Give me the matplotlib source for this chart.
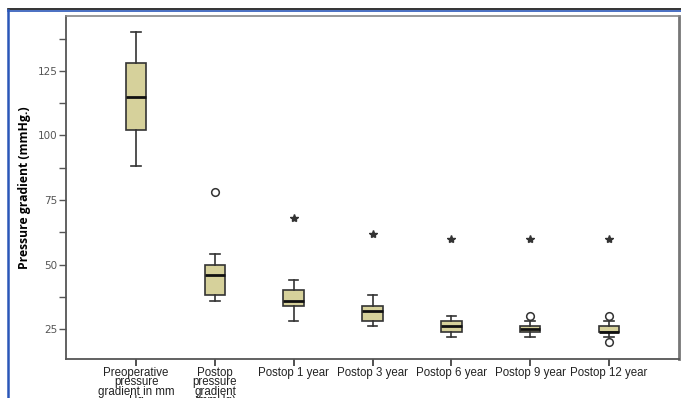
import matplotlib
matplotlib.use("Agg")
import matplotlib.pyplot as plt
from matplotlib.lines import Line2D

# box summary per time point
labels = ["Preoperative\npressure\ngradient in mm\nHg", "Postop\npressure\ngradient\n(mmHg)",
          "Postop 1 year", "Postop 3 year", "Postop 6 year", "Postop 9 year", "Postop 12 year"]
whislo = [88, 36, 28, 26, 22, 22, 22]
q1 = [102, 38, 34, 28, 24, 24, 24]
med = [115, 46, 36, 32, 26, 25, 24]
q3 = [128, 50, 40, 34, 28, 26, 26]
whishi = [140, 54, 44, 38, 30, 28, 28]

# outliers (circles) and extremes (stars)
out_pos = [1, 5, 6, 6]
out_val = [78, 30, 30, 20]
ext_pos = [2, 3, 4, 5, 6]
ext_val = [68, 62, 60, 60, 60]

fig = plt.figure(figsize=(6.81, 3.98), dpi=100)
ax = fig.add_axes([0.097, 0.098, 0.900, 0.862])

stats = []
for i in range(len(labels)):
    stats.append(dict(med=med[i], q1=q1[i], q3=q3[i], whislo=whislo[i], whishi=whishi[i], fliers=[]))

ax.bxp(stats, positions=range(len(labels)), widths=0.26, patch_artist=True, showfliers=False,
       boxprops=dict(facecolor="#d6d19b", edgecolor="#333333", linewidth=1.2),
       medianprops=dict(color="#111111", linewidth=2),
       whiskerprops=dict(color="#333333", linewidth=1.2),
       capprops=dict(color="#333333", linewidth=1.2), capwidths=0.12)

ax.plot(out_pos, out_val, "o", mfc="white", mec="#333333", ms=5.5, mew=1.1, ls="none")
ax.plot(ext_pos, ext_val, "*", color="#333333", ms=6, ls="none")

ax.set_xlim(-0.89, 6.89)
ax.set_ylim(13.4, 146.3)
ax.set_yticks([25, 50, 75, 100, 125])
ax.set_yticks([37.5, 62.5, 87.5, 112.5, 137.5], minor=True)
ax.set_xticks(range(len(labels)))
ax.set_xticklabels(labels, fontsize=8.3, family="Liberation Sans", color="#222222", linespacing=0.68)
ax.tick_params(axis="y", which="both", length=5, width=1, color="#555555",
               labelsize=7.5, labelcolor="#555555", pad=1)
ax.tick_params(axis="x", length=5, width=1.2, color="#333333", pad=1)

for s in ["left", "bottom"]:
    ax.spines[s].set_color("#555555")
    ax.spines[s].set_linewidth(1.3)
ax.spines["top"].set_color("#888888")
ax.spines["top"].set_linewidth(1.2)
ax.spines["right"].set_color("#777777")
ax.spines["right"].set_linewidth(2)

ax.set_ylabel("Pressure gradient (mmHg.)", fontsize=8.7, fontweight="bold",
              family="Open Sans", labelpad=5)

# outer frame lines
fig.add_artist(Line2D([0.012, 1.0], [0.977, 0.977], color="#111111", lw=1.2))
fig.add_artist(Line2D([0.012, 1.0], [0.973, 0.973], color="#2a56b8", lw=1.2))
fig.add_artist(Line2D([0.012, 0.012], [0.0, 0.975], color="#2a56b8", lw=1.8))

fig.savefig("out.png", dpi=100)
